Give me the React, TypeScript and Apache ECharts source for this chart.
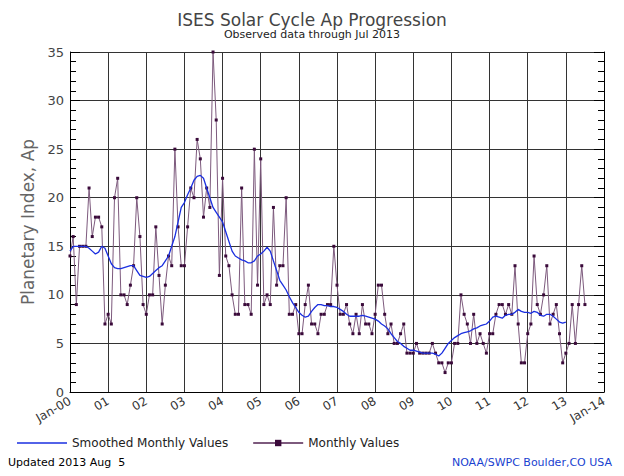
import { useEffect, useRef } from "react";
import * as echarts from "echarts";

// monthly Ap, Jan 2000 .. Jul 2013
const monthly: number[] = [
  14, 16, 9, 15, 15, 15, 21, 16, 18, 18, 17, 7,
  8, 7, 20, 22, 10, 10, 9, 11, 13, 20, 16, 9,
  8, 10, 10, 17, 12, 7, 11, 14, 13, 25, 17, 13,
  13, 17, 21, 20, 26, 24, 18, 21, 19, 35, 28, 12,
  22, 14, 13, 10, 8, 8, 21, 9, 9, 8, 25, 11,
  24, 9, 10, 9, 19, 11, 13, 13, 20, 8, 8, 9,
  6, 6, 9, 11, 7, 7, 6, 8, 8, 9, 9, 15,
  11, 8, 8, 9, 7, 6, 8, 6, 9, 7, 7, 6,
  8, 11, 11, 8, 6, 7, 5, 5, 6, 7, 4, 4,
  4, 5, 4, 4, 4, 4, 5, 4, 3, 3, 2, 3,
  3, 5, 5, 10, 8, 7, 5, 8, 5, 6, 5, 4,
  6, 6, 8, 9, 9, 8, 9, 8, 13, 7, 3, 3,
  6, 7, 14, 9, 8, 10, 13, 7, 8, 9, 6, 3,
  4, 5, 9, 5, 9, 13, 9,
];

// smoothed Ap, Jan 2000 .. Jan 2013
const smoothed: number[] = [
  14.5, 15, 15, 15, 15, 15, 14.8, 14.5, 14.2, 14.4, 15, 14.8,
  14, 13.2, 12.8, 12.7, 12.7, 12.8, 12.9, 13, 13, 12.5, 12, 11.9,
  11.8, 11.9, 12.2, 12.5, 12.8, 13, 13.5, 14, 15, 16, 17.5, 19,
  19.5, 20.3, 21, 21.8, 22.2, 22.3, 22, 21, 20, 19, 18.5, 18,
  17.5, 16.5, 15.5, 14.5, 14, 13.8, 13.6, 13.5, 13.3, 13.3, 13.5, 14,
  14.2, 14.5, 14.9, 14.5, 13.5, 12.5, 11.5, 11, 10.5, 9.8, 9.2, 8.7,
  8.2, 7.9, 7.7, 7.8, 8.3, 8.7, 9, 9, 8.9, 8.9, 8.8, 8.8,
  8.7, 8.5, 8.3, 8, 7.8, 7.8, 7.8, 7.8, 7.9, 7.8, 7.7, 7.6,
  7.5, 7.3, 7, 6.8, 6.5, 6, 5.6, 5.2, 5, 4.7, 4.5, 4.3,
  4.3, 4.2, 4.1, 4, 4, 4, 4, 3.9, 3.7, 4, 4.5, 5,
  5.3, 5.6, 5.8, 6, 6.1, 6.2, 6.3, 6.5, 6.6, 6.8, 6.9, 7,
  7.3, 7.7, 7.8, 7.7, 7.6, 7.9, 8, 8, 8.2, 8.5, 8.3, 8.2,
  8.2, 8.1, 8.3, 8.2, 7.9, 7.8, 8, 8, 7.8, 7.5, 7.2, 7.1,
  7.2,
];

const yearLabels = ["Jan-00", "01", "02", "03", "04", "05", "06", "07", "08", "09", "10", "11", "12", "13", "Jan-14"];

const font = "DejaVu Sans";

const App = () => {
  const ref = useRef<HTMLDivElement>(null);

  useEffect(() => {
    if (!ref.current) return;
    const chart = echarts.init(ref.current, null, { renderer: "svg" });
    const yAx = (side: "left" | "right") => ({
      type: "value" as const,
      position: side,
      min: 0,
      max: 35,
      interval: 5,
      axisLine: { show: true, lineStyle: { color: "#000" } },
      axisTick: { show: true, inside: true, length: 10, lineStyle: { color: "#000" } },
      minorTick: { show: true, splitNumber: 5, length: 6, lineStyle: { color: "#000" } },
      axisLabel: { show: side === "left", fontFamily: font, fontSize: 13, color: "#444", margin: 6 },
      splitLine: { show: side === "left", lineStyle: { color: "#333", width: 1 } },
      name: side === "left" ? "Planetary Index, Ap" : "",
      nameLocation: "middle" as const,
      nameGap: 34,
      nameTextStyle: { fontFamily: font, fontSize: 17, color: "#666" },
    });
    chart.setOption({
      animation: false,
      title: {
        text: "ISES Solar Cycle Ap Progression",
        subtext: "Observed data through Jul 2013",
        left: "center",
        top: -2,
        itemGap: 1,
        textStyle: { fontFamily: font, fontSize: 17, fontWeight: "normal", color: "#444" },
        subtextStyle: { fontFamily: font, fontSize: 11, color: "#222" },
      },
      legend: {
        bottom: 14,
        left: 4,
        itemWidth: 50,
        itemHeight: 8,
        itemGap: 24,
        textStyle: { fontFamily: font, fontSize: 12, color: "#222" },
        data: [
          { name: "Smoothed Monthly Values", icon: "path://M0,0H50V1.5H0Z" },
          { name: "Monthly Values", itemStyle: { borderWidth: 0 } },
        ],
      },
      graphic: [
        { type: "text", left: 0, bottom: 0, style: { text: "Updated 2013 Aug  5", fontFamily: font, fontSize: 11, fill: "#000" } },
        { type: "text", right: 4, bottom: 0, style: { text: "NOAA/SWPC Boulder,CO USA", fontFamily: font, fontSize: 11, fill: "#1a3fd0" } },
      ],
      grid: { left: 62, right: 12, top: 44, bottom: 76 },
      xAxis: {
        type: "value",
        min: 0,
        max: 168,
        interval: 12,
        axisLine: { show: true, onZero: false, lineStyle: { color: "#000" } },
        axisTick: { show: false },
        splitLine: { show: true, lineStyle: { color: "#333", width: 1 } },
        axisLabel: {
          rotate: 30,
          fontFamily: font,
          fontSize: 12,
          color: "#333",
          margin: 8,
          formatter: (v: number) => yearLabels[Math.round(v / 12)] ?? "",
        },
      },
      yAxis: [yAx("left"), yAx("right")],
      series: [
        {
          name: "Smoothed Monthly Values",
          type: "line",
          data: smoothed.map((v, i) => [i, v]),
          showSymbol: false,
          lineStyle: { color: "#1a2fe0", width: 1.3 },
          itemStyle: { color: "#1a2fe0" },
          z: 3,
        },
        {
          name: "Monthly Values",
          type: "line",
          data: monthly.map((v, i) => [i, v]),
          symbol: "rect",
          symbolSize: 3,
          lineStyle: { color: "#7d5a7d", width: 1 },
          itemStyle: { color: "#3a0a3a" },
          z: 2,
        },
      ],
    });
    return () => chart.dispose();
  }, []);

  return <div ref={ref} style={{ width: 608, height: 460 }} />;
};

export default App;
